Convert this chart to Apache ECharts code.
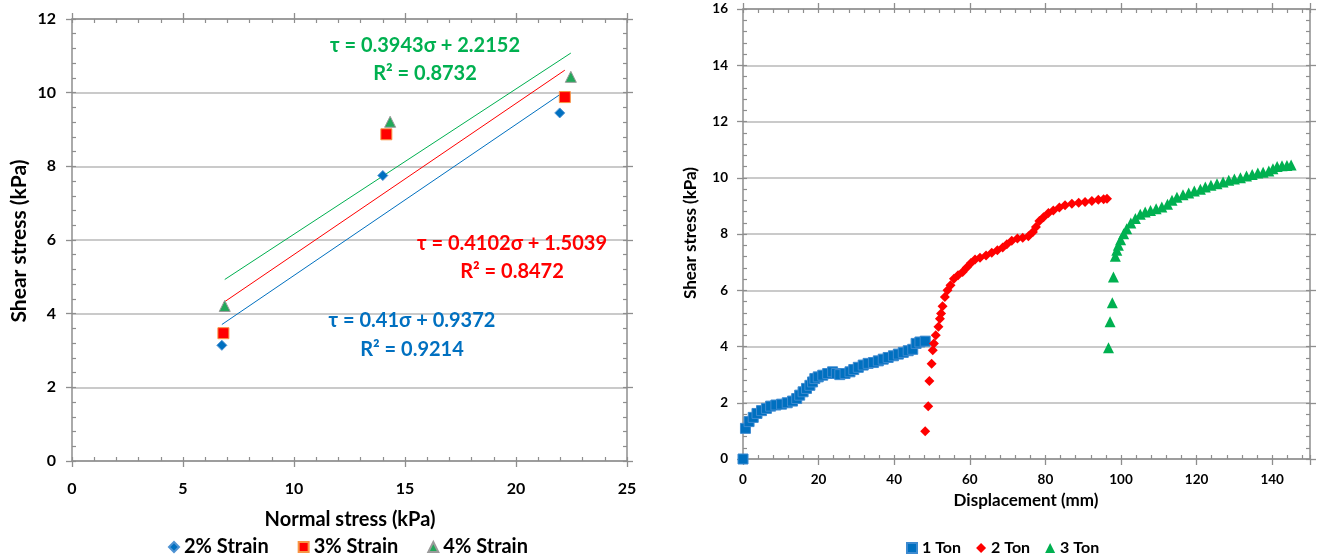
<!DOCTYPE html>
<html><head><meta charset="utf-8">
<script src="https://cdn.jsdelivr.net/npm/echarts@6/dist/echarts.min.js"></script>
<style>html,body{margin:0;padding:0;background:#fff}#c{width:1319px;height:555px}</style>
</head><body><div id="c"></div><script>
// ---------- Left chart data: normal vs shear stress ----------
const strainNames = ['2% Strain', '3% Strain', '4% Strain'];
const normal2 = [6.75, 14.0, 21.97];
const shear2 = [3.14, 7.75, 9.45];
const normal3 = [6.82, 14.16, 22.2];
const shear3 = [3.47, 8.87, 9.88];
const normal4 = [6.88, 14.33, 22.47];
const shear4 = [4.21, 9.21, 10.43];
const slopes = [0.41, 0.4102, 0.3943];
const intercepts = [0.9372, 1.5039, 2.2152];
const r2 = ['0.9214', '0.8472', '0.8732'];

// ---------- Right chart data: displacement vs shear stress ----------
const tonNames = ['1 Ton', '2 Ton', '3 Ton'];
const disp1 = [0, 0.65, 1.6, 2.7, 3.7, 4.9, 6.2, 7.3, 8.7, 10.2, 11.7, 13.1, 14.2, 15.0, 15.9, 16.8, 17.7, 18.4, 19.0, 19.9, 21.1, 22.4, 23.7, 24.7, 25.6, 27.0, 28.3, 29.3, 30.5, 31.8, 33.1, 34.5, 35.8, 37.1, 38.4, 39.8, 41.1, 42.4, 43.7, 44.9, 45.8, 46.8, 48.2];
const ton1 = [0, 1.09, 1.33, 1.48, 1.62, 1.72, 1.80, 1.88, 1.92, 1.95, 2.00, 2.06, 2.15, 2.27, 2.39, 2.51, 2.62, 2.74, 2.86, 2.92, 2.98, 3.04, 3.10, 3.04, 3.00, 3.04, 3.10, 3.18, 3.26, 3.34, 3.40, 3.43, 3.49, 3.55, 3.61, 3.67, 3.73, 3.79, 3.85, 3.90, 4.11, 4.16, 4.19];
const disp2 = [48.2, 49.0, 49.3, 49.9, 50.2, 50.5, 51.0, 51.7, 52.1, 52.4, 52.8, 53.4, 54.1, 54.9, 55.8, 56.9, 58.1, 59.2, 60.3, 61.4, 62.7, 64.3, 65.8, 67.3, 68.7, 69.8, 71.1, 72.6, 74.0, 75.5, 76.7, 77.5, 78.4, 79.5, 80.8, 82.1, 83.7, 85.2, 87.0, 88.8, 90.5, 92.3, 94.0, 95.4, 96.3];
const ton2 = [0.99, 1.88, 2.77, 3.39, 3.87, 4.11, 4.40, 4.70, 4.99, 5.17, 5.43, 5.76, 6.00, 6.18, 6.41, 6.53, 6.65, 6.81, 6.97, 7.09, 7.16, 7.24, 7.33, 7.42, 7.52, 7.64, 7.76, 7.84, 7.87, 7.92, 8.07, 8.25, 8.46, 8.60, 8.75, 8.84, 8.94, 9.02, 9.08, 9.11, 9.14, 9.17, 9.22, 9.24, 9.25];
const disp3 = [96.7, 97.1, 97.7, 98.0, 98.5, 98.9, 99.3, 99.9, 100.7, 101.5, 102.6, 103.8, 105.1, 106.4, 107.8, 109.3, 110.8, 112.3, 113.5, 114.8, 116.4, 117.9, 119.4, 121.0, 122.3, 123.8, 125.4, 127.0, 128.5, 130.0, 131.6, 133.2, 134.7, 136.2, 137.6, 139.1, 140.2, 141.3, 142.6, 143.9, 145.0];
const ton3 = [3.96, 4.88, 5.56, 6.47, 7.21, 7.42, 7.60, 7.80, 8.01, 8.19, 8.39, 8.55, 8.70, 8.78, 8.84, 8.90, 8.96, 9.06, 9.20, 9.31, 9.40, 9.46, 9.53, 9.59, 9.67, 9.73, 9.79, 9.85, 9.91, 9.96, 10.00, 10.06, 10.12, 10.17, 10.20, 10.24, 10.32, 10.40, 10.43, 10.44, 10.45];

// ---------- styling ----------
const FONT = 'Lato, "Noto Sans", sans-serif';
const AX = '#8e8e8e';
const GRIDC = '#b8b8b8';
const BLUE = '#0070c0', RED = '#ff0000', GREEN = '#00b050';

const zip = (xs, ys) => xs.map((x, i) => [x, ys[i]]);
function trend(xs, k, b) {
  const x0 = Math.min(...xs), x1 = Math.max(...xs);
  return [[x0, k * x0 + b], [x1, k * x1 + b]];
}

function mainAxis(gridIndex, position, min, max, interval, opts) {
  opts = opts || {};
  return {
    type: 'value', gridIndex, position, min, max, interval,
    axisLine: { show: true, onZero: false, lineStyle: { color: AX, width: 1.5 } },
    axisTick: { show: true, inside: false, length: 6, lineStyle: { color: AX, width: 1.3 } },
    axisLabel: opts.label ? Object.assign({
      show: true, color: '#000', fontWeight: 'bold', fontFamily: FONT
    }, opts.label) : { show: false },
    splitLine: opts.split ? { show: true, lineStyle: { color: GRIDC, width: 1.5 } } : { show: false }
  };
}
function minorAxis(gridIndex, position, min, max, interval) {
  return {
    type: 'value', gridIndex, position, min, max, interval,
    axisLine: { show: false, onZero: false },
    axisTick: { show: true, inside: true, length: 4, lineStyle: { color: AX, width: 1.2 } },
    axisLabel: { show: false },
    splitLine: { show: false }
  };
}

const LG = { left: 72, top: 19, width: 555, height: 442 };
const RG = { left: 743, top: 9, width: 567, height: 450 };

const option = {
  animation: false,
  backgroundColor: '#fff',
  grid: [LG, LG, RG, RG].map(g => Object.assign({ containLabel: false }, g)),
  xAxis: [
    mainAxis(0, 'bottom', 0, 25, 5, { label: { fontSize: 16, margin: 20 } }),
    mainAxis(0, 'top', 0, 25, 5),
    minorAxis(1, 'bottom', 0, 25, 1),
    minorAxis(1, 'top', 0, 25, 1),
    mainAxis(2, 'bottom', 0, 150, 20, { label: { fontSize: 13.5, margin: 14,
      formatter: v => (v % 20 === 0 ? String(v) : '') } }),
    mainAxis(2, 'top', 0, 150, 20),
    minorAxis(3, 'bottom', 0, 150, 4),
    minorAxis(3, 'top', 0, 150, 4)
  ],
  yAxis: [
    mainAxis(0, 'left', 0, 12, 2, { label: { fontSize: 16, margin: 16 }, split: true }),
    mainAxis(0, 'right', 0, 12, 2),
    minorAxis(1, 'left', 0, 12, 0.4),
    minorAxis(1, 'right', 0, 12, 0.4),
    mainAxis(2, 'left', 0, 16, 2, { label: { fontSize: 13.5, margin: 15 }, split: true }),
    mainAxis(2, 'right', 0, 16, 2),
    minorAxis(3, 'left', 0, 16, 0.4),
    minorAxis(3, 'right', 0, 16, 0.4)
  ],
  legend: [
    {
      left: 163, top: 532, itemWidth: 10, itemHeight: 10, itemGap: 29,
      textStyle: { fontSize: 20, fontWeight: 'bold', fontFamily: FONT, color: '#000' },
      data: [
        { name: strainNames[0], icon: 'diamond' },
        { name: strainNames[1], icon: 'rect' },
        { name: strainNames[2], icon: 'triangle' }
      ]
    },
    {
      left: 901, top: 535, itemWidth: 10, itemHeight: 10, itemGap: 15,
      textStyle: { fontSize: 16, fontWeight: 'bold', fontFamily: FONT, color: '#000' },
      data: [
        { name: tonNames[0], icon: 'rect' },
        { name: tonNames[1], icon: 'diamond' },
        { name: tonNames[2], icon: 'triangle' }
      ]
    }
  ],
  series: [
    { name: 'fit2', type: 'line', xAxisIndex: 0, yAxisIndex: 0, data: trend(normal2, slopes[0], intercepts[0]),
      showSymbol: false, lineStyle: { color: BLUE, width: 1 }, silent: true, z: 2 },
    { name: 'fit3', type: 'line', xAxisIndex: 0, yAxisIndex: 0, data: trend(normal3, slopes[1], intercepts[1]),
      showSymbol: false, lineStyle: { color: RED, width: 1 }, silent: true, z: 2 },
    { name: 'fit4', type: 'line', xAxisIndex: 0, yAxisIndex: 0, data: trend(normal4, slopes[2], intercepts[2]),
      showSymbol: false, lineStyle: { color: GREEN, width: 1 }, silent: true, z: 2 },
    { name: strainNames[0], type: 'scatter', xAxisIndex: 0, yAxisIndex: 0, data: zip(normal2, shear2),
      symbol: 'diamond', symbolSize: 10, itemStyle: { color: BLUE, borderColor: '#4f93d3', borderWidth: 1, opacity: 1 }, z: 3 },
    { name: strainNames[1], type: 'scatter', xAxisIndex: 0, yAxisIndex: 0, data: zip(normal3, shear3),
      symbol: 'rect', symbolSize: 11, itemStyle: { color: RED, borderColor: '#f79646', borderWidth: 1, opacity: 1 }, z: 3 },
    { name: strainNames[2], type: 'scatter', xAxisIndex: 0, yAxisIndex: 0, data: zip(normal4, shear4),
      symbol: 'triangle', symbolSize: 11, itemStyle: { color: '#22a85a', borderColor: '#9a9a9a', borderWidth: 1, opacity: 1 }, z: 3 },

    { name: tonNames[0], type: 'scatter', xAxisIndex: 4, yAxisIndex: 4, data: zip(disp1, ton1),
      symbol: 'rect', symbolSize: 10, itemStyle: { color: BLUE, borderColor: '#3d8ad0', borderWidth: 1, opacity: 1 } },
    { name: tonNames[1], type: 'scatter', xAxisIndex: 4, yAxisIndex: 4, data: zip(disp2, ton2),
      symbol: 'diamond', symbolSize: 10, itemStyle: { color: RED, opacity: 1 } },
    { name: tonNames[2], type: 'scatter', xAxisIndex: 4, yAxisIndex: 4, data: zip(disp3, ton3),
      symbol: 'triangle', symbolSize: 11, itemStyle: { color: GREEN, opacity: 1 } }
  ],
  graphic: [
    // equations
    ...[
      { c: GREEN, i: 2, x: 425, y1: 46, y2: 74 },
      { c: RED, i: 1, x: 512, y1: 244, y2: 272 },
      { c: BLUE, i: 0, x: 412, y1: 321, y2: 350 }
    ].flatMap(e => [
      { type: 'text', x: e.x, y: e.y1, z: 10, style: { text: 'τ = ' + slopes[e.i] + 'σ + ' + intercepts[e.i],
        fill: e.c, fontSize: 20, fontWeight: 'bold', fontFamily: FONT, align: 'center', verticalAlign: 'middle' } },
      { type: 'text', x: e.x, y: e.y2, z: 10, style: { text: 'R² = ' + r2[e.i],
        fill: e.c, fontSize: 20, fontWeight: 'bold', fontFamily: FONT, align: 'center', verticalAlign: 'middle' } }
    ]),
    // axis titles
    { type: 'text', x: 350, y: 520, style: { text: 'Normal stress (kPa)', fill: '#000', fontSize: 20, fontWeight: 'bold',
      fontFamily: FONT, align: 'center', verticalAlign: 'middle' } },
    { type: 'text', x: 19, y: 241, rotation: Math.PI / 2, style: { text: 'Shear stress (kPa)', fill: '#000', fontSize: 21,
      fontWeight: 'bold', fontFamily: FONT, align: 'center', verticalAlign: 'middle' } },
    { type: 'text', x: 1026, y: 501, style: { text: 'Displacement (mm)', fill: '#000', fontSize: 17, fontWeight: 'bold',
      fontFamily: FONT, align: 'center', verticalAlign: 'middle' } },
    { type: 'text', x: 691, y: 233, rotation: Math.PI / 2, style: { text: 'Shear stress (kPa)', fill: '#000', fontSize: 17,
      fontWeight: 'bold', fontFamily: FONT, align: 'center', verticalAlign: 'middle' } }
  ]
};

const chart = echarts.init(document.getElementById('c'), null, { renderer: 'canvas' });
chart.setOption(option);
</script></body></html>
